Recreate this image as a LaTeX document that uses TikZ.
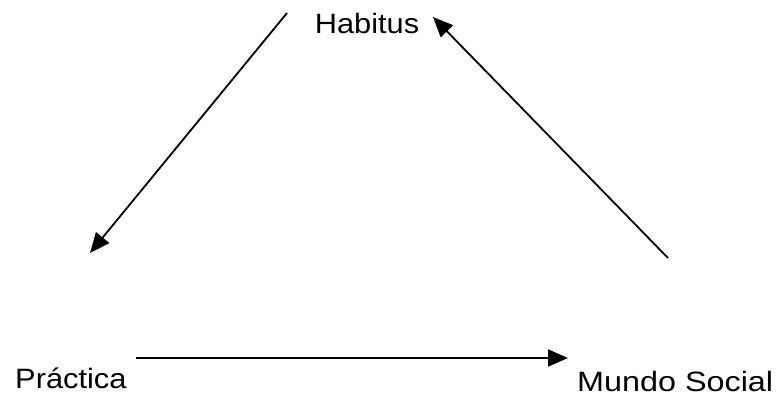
\documentclass[tikz,border=0pt]{standalone}
\usepackage{fontspec}
\setmainfont{Liberation Sans}
\usetikzlibrary{arrows.meta}
\begin{document}
\begin{tikzpicture}[x=1pt,y=-1pt,
  lbl/.style={inner sep=0pt, xscale=1.1, font=\fontsize{28}{32}\selectfont},
  conn/.style={line width=1.8pt, -{Triangle[length=20pt,width=17pt]}}]
\useasboundingbox (0,0) rectangle (779,396);
\node[lbl, anchor=base] (hab) at (367,34) {Habitus};
\node[lbl, anchor=base west] (pra) at (15,388) {Práctica};
\node[lbl, anchor=base west, xscale=1.05] (mun) at (577,391) {Mundo Social};
\coordinate (a1s) at (287,13);
\coordinate (a1e) at (90,253);
\coordinate (a2s) at (668,258);
\coordinate (a2e) at (433,17);
\coordinate (a3s) at (136,358);
\coordinate (a3e) at (568,358);
\draw[conn] (a1s) -- (a1e);
\draw[conn] (a2s) -- (a2e);
\draw[conn] (a3s) -- (a3e);
\end{tikzpicture}
\end{document}
